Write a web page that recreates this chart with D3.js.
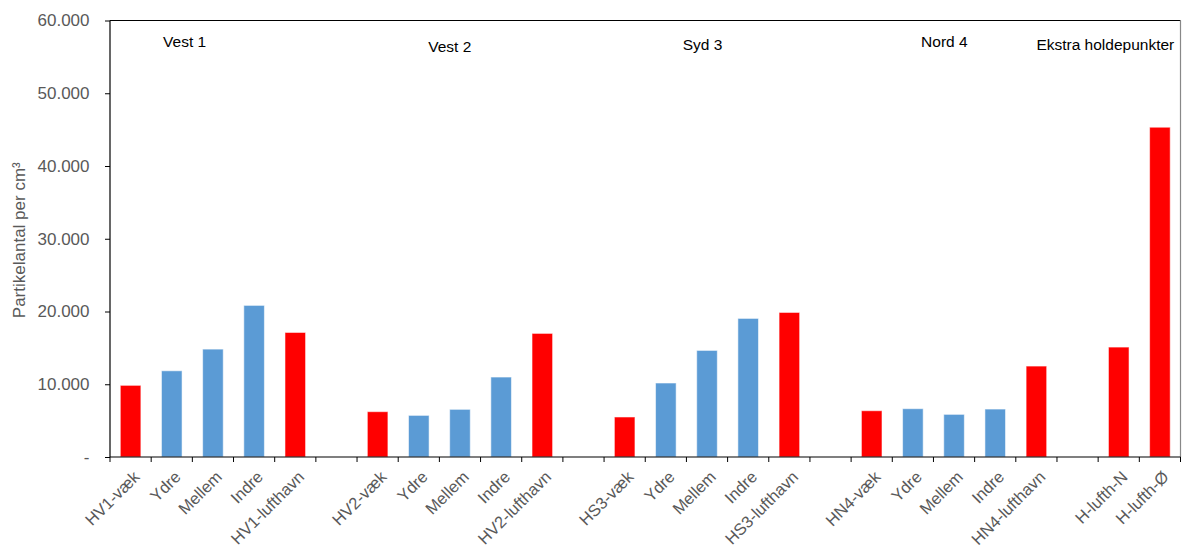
<!DOCTYPE html>
<html>
<head>
<meta charset="utf-8">
<script src="https://cdn.jsdelivr.net/npm/d3@7"></script>
<style>
  body { margin: 0; background: #fff; }
  svg { font-family: "Liberation Sans", Arial, sans-serif; }
</style>
</head>
<body>
<div id="chart"></div>
<script>
// categories along the x axis, "" = empty slot between groups
var labels = ["HV1-væk","Ydre","Mellem","Indre","HV1-lufthavn","",
              "HV2-væk","Ydre","Mellem","Indre","HV2-lufthavn","",
              "HS3-væk","Ydre","Mellem","Indre","HS3-lufthavn","",
              "HN4-væk","Ydre","Mellem","Indre","HN4-lufthavn","",
              "H-lufth-N","H-lufth-Ø"];
var values = [9850, 11850, 14830, 20840, 17120, null,
              6230, 5720, 6550, 10990, 16990, null,
              5500, 10170, 14650, 19050, 19870, null,
              6360, 6640, 5860, 6590, 12500, null,
              15110, 45330];
var groups = ["Vest 1", "Vest 2", "Syd 3", "Nord 4", "Ekstra holdepunkter"];
var yTicks = [0, 10000, 20000, 30000, 40000, 50000, 60000];

// label placement (slot units from left, baseline px)
var groupSlot = [1.29, 7.73, 13.91, 19.70, 22.50];
var groupBase = [46.7, 52.3, 50, 46.7, 50];

var W = 1182, H = 550;
var margin = {top: 20.5, right: 1.5, bottom: 93, left: 110};
var width = W - margin.left - margin.right,
    height = H - margin.top - margin.bottom;

var svg = d3.select("#chart").append("svg")
    .attr("width", W).attr("height", H)
  .append("g")
    .attr("transform", "translate(" + margin.left + "," + margin.top + ")");

var x = d3.scaleBand()
    .domain(d3.range(labels.length))
    .range([0, width])
    .paddingInner(0.5).paddingOuter(0.25);

var y = d3.scaleLinear().domain([0, 60000]).range([height, 0]);

var slot = width / labels.length;

var loc = d3.formatLocale({decimal: ",", thousands: ".", grouping: [3], currency: ["", ""]});
var fmt = loc.format(",.0f");

// plot box (top black, right grey)
svg.append("line").attr("x1", 0).attr("x2", width).attr("y1", 0).attr("y2", 0)
   .attr("stroke", "#000").attr("stroke-width", 1.2);
svg.append("line").attr("x1", width).attr("x2", width).attr("y1", 0).attr("y2", height)
   .attr("stroke", "#888").attr("stroke-width", 1.2);

// bars
var bars = labels.map(function(l, i) { return {i: i, label: l, v: values[i]}; })
    .filter(function(d) { return d.v != null; });

svg.selectAll("rect.bar")
    .data(bars)
    .enter().append("rect")
    .attr("class", "bar")
    .attr("x", function(d) { return x(d.i); })
    .attr("y", function(d) { return y(d.v); })
    .attr("width", x.bandwidth())
    .attr("height", function(d) { return height - y(d.v); })
    .attr("fill", function(d) {
        return (d.label == "Ydre" || d.label == "Mellem" || d.label == "Indre") ? "#5b9bd5" : "#ff0000";
    })
    .attr("stroke", "rgba(255,255,255,0.55)")
    .attr("stroke-width", 1);

// y axis
var yAxis = svg.append("g")
    .call(d3.axisLeft(y)
        .tickValues(yTicks)
        .tickSize(5)
        .tickPadding(15.5)
        .tickFormat(function(d) { return d === 0 ? "-" : fmt(d); }));
yAxis.select(".domain").attr("stroke", "#000").attr("stroke-width", 1.2).attr("d", "M0,0V" + height);
yAxis.selectAll(".tick line").attr("stroke", "#000");
yAxis.selectAll(".tick text")
    .attr("fill", "#595959")
    .attr("font-size", "17px")
    .attr("font-family", "Liberation Sans, Arial, sans-serif");

// x axis line + boundary ticks
var xg = svg.append("g").attr("transform", "translate(0," + height + ")");
xg.append("line").attr("x1", 0).attr("x2", width).attr("stroke", "#000").attr("stroke-width", 1.2);
xg.selectAll("line.tk")
    .data(d3.range(labels.length + 1))
    .enter().append("line")
    .attr("class", "tk")
    .attr("x1", function(k) { return k * slot; })
    .attr("x2", function(k) { return k * slot; })
    .attr("y1", 0).attr("y2", 5)
    .attr("stroke", "#000");

xg.selectAll("text.xl")
    .data(labels.map(function(l, i) { return {i: i, label: l}; }).filter(function(d) { return d.label; }))
    .enter().append("text")
    .attr("class", "xl")
    .attr("transform", function(d) {
        return "translate(" + (x(d.i) + x.bandwidth() / 2 + 10) + ",21) rotate(-45)";
    })
    .attr("text-anchor", "end")
    .attr("fill", "#595959")
    .attr("font-size", "16.5px")
    .text(function(d) { return d.label; });

// group labels
svg.selectAll("text.grp")
    .data(groups)
    .enter().append("text")
    .attr("class", "grp")
    .attr("x", function(d, i) { return groupSlot[i] * slot; })
    .attr("y", function(d, i) { return groupBase[i] - margin.top; })
    .attr("fill", "#000")
    .attr("font-size", "15.5px")
    .text(function(d) { return d; });

// y title
svg.append("text")
    .attr("transform", "translate(" + (25 - margin.left) + "," + (height / 2 + 1.5) + ") rotate(-90)")
    .attr("text-anchor", "middle")
    .attr("fill", "#595959")
    .attr("font-size", "17px")
    .text("Partikelantal per cm³");
</script>
</body>
</html>
